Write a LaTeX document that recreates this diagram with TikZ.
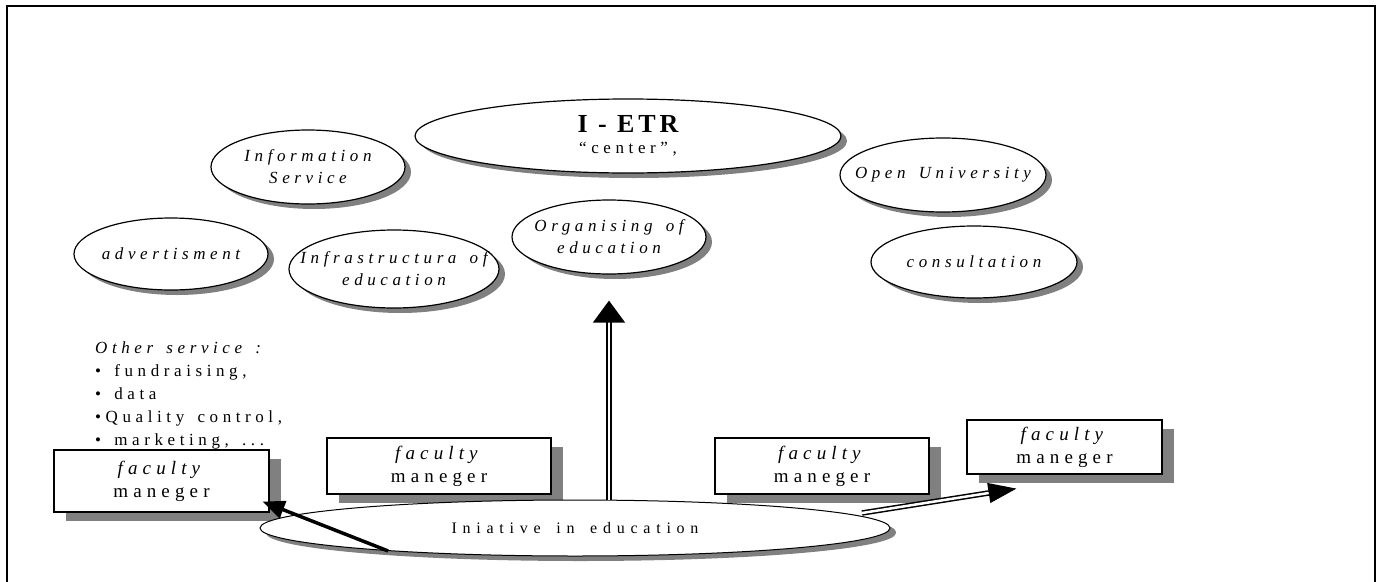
\documentclass[tikz,border=0pt]{standalone}
\usepackage{fontspec}
\setmainfont[LetterSpace=27,WordSpace=1.5]{Liberation Serif}
\newfontfamily\titlefont[LetterSpace=15]{Liberation Serif}
\newfontfamily\widefont[LetterSpace=36,WordSpace=1.6]{Liberation Serif}
\usetikzlibrary{shapes.geometric,shadows,arrows.meta,calc}
\newcommand{\oneline}[1]{\makebox[0pt]{#1}}

\begin{document}
\begin{tikzpicture}[x=1pt,y=-1pt,
    bubble/.style={ellipse, draw, line width=1.2pt, fill=white, inner sep=0pt, align=center,
      font=\fontsize{17}{22}\selectfont\itshape,
      drop shadow={shadow xshift=6pt, shadow yshift=-5pt, fill=black!50, opacity=1}},
    manager/.style={rectangle, draw, line width=1.2pt, fill=white, inner sep=0pt, align=center,
      font=\fontsize{19}{23}\selectfont,
      drop shadow={shadow xshift=12pt, shadow yshift=-9pt, fill=black!50, opacity=1}},
    flow/.style={line width=3.5pt, -{Triangle[length=22pt,width=18pt]}},
    dflow/.style={double, double distance=2.5pt, line width=1.5pt}]
   \useasboundingbox (0,0) rectangle (1381,581);
   \draw[line width=1.2pt] (7,590) -- (7,6) -- (1375,6) -- (1375,590);
   % bubbles
   \node[bubble, minimum width=426, minimum height=74] (ietr) at (628,136)
      {{\titlefont\fontsize{26}{28}\selectfont\bfseries\upshape I - ETR}\\[-1pt]\upshape ``center'',};
   \node[bubble, minimum width=194, minimum height=74] (info) at (308,167)
      {\oneline{Information}\\\oneline{Service}};
   \node[bubble, minimum width=194, minimum height=72] (advert) at (171,254) {\oneline{advertisment}};
   \node[bubble, minimum width=210, minimum height=78] (infra) at (394,269)
      {\oneline{Infrastructura of}\\\oneline{education}};
   \node[bubble, minimum width=194, minimum height=74] (organ) at (609,237)
      {\oneline{Organising of}\\\oneline{education}};
   \node[bubble, minimum width=206, minimum height=74] (openu) at (943,175) {\oneline{Open University}};
   \node[bubble, minimum width=206, minimum height=72] (consult) at (974,262) {\oneline{consultation}};
   % other services
   \node[anchor=north west, inner sep=0pt, align=left, font=\fontsize{17}{23}\selectfont]
      (other) at (95,341) {\textit{Other service :}\\\textbullet{} fundraising,\\\textbullet{} data\\
      \textbullet Quality control,\\\textbullet{} marketing, ...};
   % faculty managers
   \node[manager, minimum width=215, minimum height=62] (fm1) at (161.5,481) {\textit{faculty}\\maneger};
   \node[manager, minimum width=224, minimum height=56] (fm2) at (439,466) {\textit{faculty}\\maneger};
   \node[manager, minimum width=214, minimum height=56] (fm3) at (822,466) {\textit{faculty}\\maneger};
   \node[manager, minimum width=195, minimum height=54] (fm4) at (1064.5,447) {\textit{faculty}\\maneger};
   \node[bubble, line width=1pt, font=\widefont\fontsize{16}{22}\selectfont, minimum width=630, minimum height=56,
      drop shadow={shadow xshift=6pt, shadow yshift=-4pt, fill=black!50, opacity=1}]
      (init) at (575,528) {\oneline{Iniative in education}};
   % arrows
   \coordinate (rs) at (862,513);
   \draw[flow] (init.187) -- ($(fm1.south east)+(-7,-11)$);
   \draw[dflow, -{Triangle[length=22pt,width=32pt]}, shorten >=26pt] (init.north -| organ.south) -- (organ.south);
   \draw[dflow, -{Triangle[length=28pt,width=20pt]}] (rs) -- ($(fm4.south west)+(50,14)$);
 \end{tikzpicture}
\end{document}
